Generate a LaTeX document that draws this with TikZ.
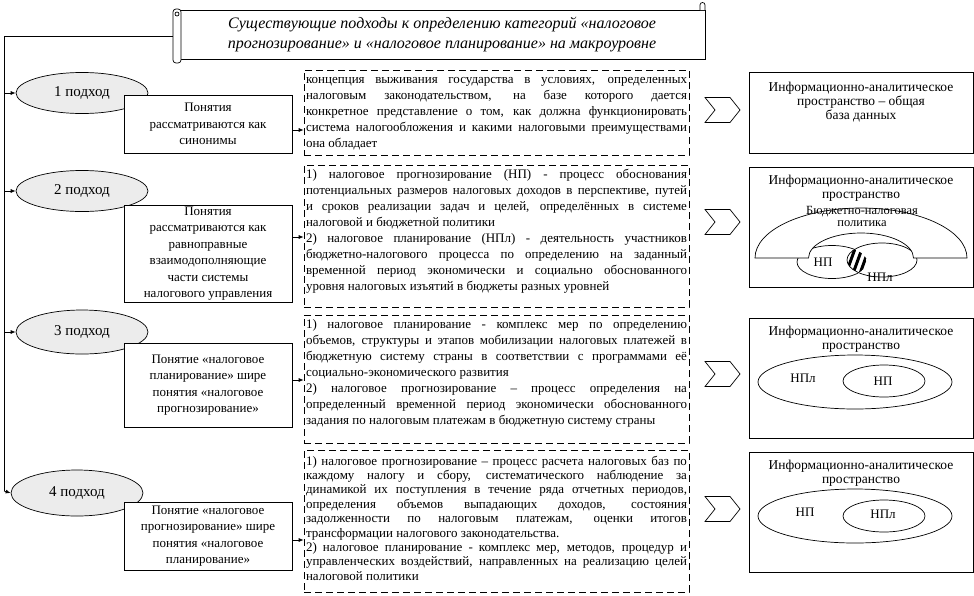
\documentclass[tikz,border=0pt]{standalone}
\usepackage{fontspec}
\setmainfont{Liberation Serif}
\usetikzlibrary{positioning, arrows.meta, shapes.geometric}

\begin{document}
\begin{tikzpicture}[
    x=1pt, y=1pt,
    line width=0.7pt,
    oval/.style={draw, ellipse, fill=gray!15, minimum width=132pt, minimum height=41pt,
                 inner sep=0pt, font=\fontsize{15}{17}\selectfont},
    idea/.style={draw, fill=white, minimum width=168pt, align=center, inner sep=0pt,
                 font=\fontsize{13}{16.5}\selectfont},
    defn/.style={draw, dash pattern=on 7pt off 4pt, inner sep=2pt,
                 font=\fontsize{13}{16}\selectfont},
    space/.style={draw, minimum width=224pt, inner sep=0pt},
    ttl/.style={align=center, inner sep=1pt, font=\fontsize{13.5}{14}\selectfont},
    venn/.style={font=\fontsize{13}{14}\selectfont, inner sep=0pt},
    chev/.style={draw, fill=white},
    arr/.style={-{Latex[length=5pt, width=4pt]}},
]

\useasboundingbox (0,0) rectangle (974,-595);

% --- Title scroll ---
\node[draw, fill=white, minimum width=526pt, minimum height=49pt, align=center,
      font=\fontsize{16}{20}\selectfont\itshape] (title) at (442,-34.5)
    {Существующие подходы к определению категорий «налоговое\\
     прогнозирование» и «налоговое планирование» на макроуровне};
\node[draw, fill=white, rounded corners=3pt, minimum width=8pt, minimum height=54pt,
      inner sep=0pt] (roll) at (177,-36) {};
\draw (177,-14) circle (2pt);
\draw[fill=white] (700,-10) -- (700,-5) arc[start angle=180, end angle=0, radius=2.5pt] -- (705,-10);

% --- Trunk ---
\coordinate (v1) at (4,-93);
\coordinate (v2) at (4,-191);
\coordinate (v3) at (4,-332);
\coordinate (v4) at (4,-491);
\draw (roll.west) -| (v4);

% --- Approaches ---
\node[oval] (ov1) at (82,-93) {1 подход};
\node[oval] (ov2) at (82,-191) {2 подход};
\node[oval, minimum height=44pt] (ov3) at (82,-332) {3 подход};
\node[oval, minimum height=46pt] (ov4) at (77,-493) {4 подход};

\draw[arr] (v1) -- (ov1.west);
\draw[arr] (v2) -- (ov2.west);
\draw[arr] (v3) -- (ov3.west);
\draw[arr] (v4) -- (ov4.west);

% --- Notions ---
\node[idea, minimum height=58pt] (b1) at (208,-124)
    {Понятия\\рассматриваются как\\синонимы};
\node[idea, minimum height=97pt] (b2) at (208,-253.5)
    {Понятия\\рассматриваются как\\равноправные\\взаимодополняющие\\части системы\\налогового управления};
\node[idea, minimum height=84pt] (b3) at (208,-385)
    {Понятие «налоговое\\планирование» шире\\понятия «налоговое\\прогнозирование»};
\node[idea, minimum height=68pt] (b4) at (208,-536)
    {Понятие «налоговое\\прогнозирование» шире\\понятия «налоговое\\планирование»};

% --- Definitions ---
\node[defn] (d1) at (496.5,-112.5) {\parbox[c][81pt][t]{381pt}{\strut
    концепция выживания государства в условиях, определенных\linebreak
    налоговым законодательством, на базе которого дается\linebreak
    конкретное представление о том, как должна функционировать\linebreak
    система налогообложения и какими налоговыми преимуществами\linebreak
    она обладает}};
\node[defn] (d2) at (496.5,-236) {\parbox[c][138pt][t]{381pt}{\strut
    1) налоговое прогнозирование (НП) - процесс обоснования\linebreak
    потенциальных размеров налоговых доходов в перспективе, путей\linebreak
    и сроков реализации задач и целей, определённых в системе\linebreak
    налоговой и бюджетной политики\par
    2) налоговое планирование (НПл) - деятельность участников\linebreak
    бюджетно-налогового процесса по определению на заданный\linebreak
    временной период экономически и социально обоснованного\linebreak
    уровня налоговых изъятий в бюджеты разных уровней}};
\node[defn] (d3) at (496.5,-379) {\parbox[c][124pt][t]{381pt}{\strut
    1) налоговое планирование - комплекс мер по определению\linebreak
    объемов, структуры и этапов мобилизации налоговых платежей в\linebreak
    бюджетную систему страны в соответствии с программами её\linebreak
    социально-экономического развития\par
    2) налоговое прогнозирование -- процесс определения на\linebreak
    определенный временной период экономически обоснованного\linebreak
    задания по налоговым платежам в бюджетную систему страны}};
\node[defn, font=\fontsize{13}{14.4}\selectfont] (d4) at (496.5,-521)
    {\parbox[c][138pt][t]{381pt}{\rule{0pt}{13pt}%
    1) налоговое прогнозирование -- процесс расчета налоговых баз по\linebreak
    каждому налогу и сбору, систематического наблюдение за\linebreak
    динамикой их поступления в течение ряда отчетных периодов,\linebreak
    определения объемов выпадающих доходов, состояния\linebreak
    задолженности по налоговым платежам, оценки итогов\linebreak
    трансформации налогового законодательства.\par
    2) налоговое планирование - комплекс мер, методов, процедур и\linebreak
    управленческих воздействий, направленных на реализацию целей\linebreak
    налоговой политики}};

\draw[arr] ([yshift=-6pt]b1.east) -- ([yshift=-6pt]b1.east -| d1.west);
\draw[arr] ([yshift=16.5pt]b2.east) -- ([yshift=16.5pt]b2.east -| d2.west);
\draw[arr] ([yshift=5pt]b3.east) -- ([yshift=5pt]b3.east -| d3.west);
\draw[arr] ([yshift=-4pt]b4.east) -- ([yshift=-4pt]b4.east -| d4.west);

% --- Chevrons ---
\foreach \y in {-110,-222,-374,-509}
    \draw[chev] (705,\y+12.5) -- (730,\y+12.5) -- (740,\y) -- (730,\y-12.5)
        -- (705,\y-12.5) -- (715,\y) -- cycle;

% --- Information space ---
\node[space, minimum height=81pt] (r1) at (861,-112.5) {};
\node[space, minimum height=120pt] (r2) at (861,-227) {};
\node[space, minimum height=120pt] (r3) at (861,-378) {};
\node[space, minimum height=120pt] (r4) at (861,-512) {};

\node[ttl, below=9pt of r1.north] (r1t) {Информационно-аналитическое\\пространство -- общая\\база данных};
\node[ttl, below=7pt of r2.north] (r2t) {Информационно-аналитическое\\пространство};
\node[ttl, below=7pt of r3.north] (r3t) {Информационно-аналитическое\\пространство};
\node[ttl, below=7pt of r4.north] (r4t) {Информационно-аналитическое\\пространство};

% second space: policy band over both sets
\draw[fill=white] (832,-262) ellipse[x radius=35, y radius=16.5];
\draw[fill=white] (882,-260) ellipse[x radius=35, y radius=17];
\draw[fill=white] (755,-258) arc[start angle=180, end angle=0, x radius=106, y radius=50]
    -- (913.5,-258) arc[start angle=0, end angle=180, x radius=52.5, y radius=25] -- cycle;
\begin{scope}
    \clip (832,-262) ellipse[x radius=35, y radius=16.5];
    \clip (882,-260) ellipse[x radius=35, y radius=17];
    \foreach \s in {-12,-5,...,23}
        \draw[line width=3pt] (838+\s,-290) -- (858+\s,-235);
\end{scope}
\node[venn, align=center, font=\fontsize{12.5}{12}\selectfont] (pol) at (862,-216)
    {Бюджетно-налоговая\\политика};
\node[venn] (np2) at (823,-262) {НП};
\node[venn] (npl2) at (880,-277) {НПл};

% third space
\draw (855,-382) ellipse[x radius=97, y radius=27];
\draw (884,-381) ellipse[x radius=41, y radius=16];
\node[venn] (npl3) at (803,-378) {НПл};
\node[venn] (np3) at (883,-381) {НП};

% fourth space
\draw (855,-516) ellipse[x radius=97, y radius=27];
\draw (884,-516) ellipse[x radius=41, y radius=16];
\node[venn] (np4) at (805,-512) {НП};
\node[venn] (npl4) at (883,-514) {НПл};

\end{tikzpicture}
\end{document}
